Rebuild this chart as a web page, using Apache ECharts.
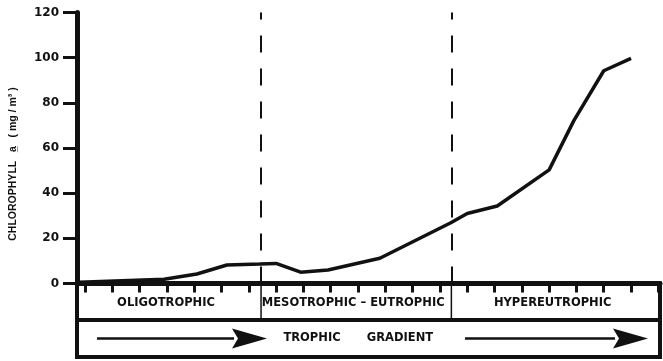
<!DOCTYPE html>
<html>
<head>
<meta charset="utf-8">
<script src="https://cdn.jsdelivr.net/npm/echarts@6/dist/echarts.min.js"></script>
<style>
  html, body { margin: 0; padding: 0; background: #fff; }
  #chart { width: 663px; height: 361px; }
</style>
</head>
<body>
<div id="chart"></div>
<script>
// position along the trophic gradient (in tick units) and chlorophyll a (mg/m3)
var gradientPos = [-0.2, 2.9, 4.1, 5.2, 6.4, 7.0, 7.9, 8.9, 10.8, 13.4, 14.0, 15.1, 17.0, 17.9, 19.0, 20.0];
var chlorophyll = [0.5, 1.9, 4.2, 8.2, 8.6, 8.9, 5.0, 6.0, 11.2, 26.9, 31.0, 34.3, 50.3, 72, 94.2, 99.7];
// zone boundaries (dashed lines) and zone names
var boundaries = [6.45, 13.42];
var zoneNames = ['OLIGOTROPHIC', 'MESOTROPHIC \u2013 EUTROPHIC', 'HYPEREUTROPHIC'];
var xRange = [-0.29, 21.06];
var yRange = [0, 120];

var ink = '#111';
var boldFont = 'bold 11.5px "DejaVu Sans", sans-serif';

var chart = echarts.init(document.getElementById('chart'), null, { renderer: 'canvas' });

chart.setOption({
    backgroundColor: '#fff',
    animation: false,
    grid: { left: 77, right: 3, top: 12.5, bottom: 77.5 },
    xAxis: {
        type: 'value',
        min: xRange[0],
        max: xRange[1],
        splitNumber: 21,
        axisLine: { onZero: false, lineStyle: { color: ink, width: 5 } },
        axisTick: { show: true, length: 9, lineStyle: { color: ink, width: 3 } },
        axisLabel: { show: false },
        splitLine: { show: false }
    },
    yAxis: {
        type: 'value',
        min: yRange[0],
        max: yRange[1],
        interval: 20,
        name: 'CHLOROPHYLL   a\u0332   ( mg / m\u00b3 )',
        nameLocation: 'middle',
        nameGap: 58,
        nameRotate: 90,
        nameTextStyle: {
            color: ink,
            fontWeight: 'bold',
            fontSize: 10.5,
            fontFamily: '"Liberation Sans Narrow", "Liberation Sans", sans-serif',
            padding: [0, 32, 0, 0]
        },
        axisLine: { show: true, onZero: false, lineStyle: { color: ink, width: 5 } },
        axisTick: { show: true, length: 14, lineStyle: { color: ink, width: 3 } },
        axisLabel: { color: ink, fontWeight: 'bold', fontSize: 12, fontFamily: '"DejaVu Sans", sans-serif', margin: 18 },
        splitLine: { show: false }
    },
    series: [{
        type: 'line',
        data: gradientPos.map(function (x, i) { return [x, chlorophyll[i]]; }),
        showSymbol: false,
        symbol: 'none',
        clip: false,
        lineStyle: { color: ink, width: 3.5 },
        markLine: {
            silent: true,
            symbol: 'none',
            label: { show: false },
            lineStyle: { color: ink, width: 2, type: [17, 16] },
            data: boundaries.map(function (b) { return { xAxis: b }; })
        }
    }]
});

/* box under the axis: zone names and the gradient arrows */
function px(x, y) {
    return chart.convertToPixel({ gridIndex: 0 }, [x, y]);
}
var boxLeft = px(xRange[0], 0)[0];
var boxRight = px(xRange[1], 0)[0];
var boxTop = px(0, 0)[1];
var midRow = boxTop + 36.5;
var boxBottom = boxTop + 73.5;
var rowTwo = (midRow + boxBottom) / 2;

var edges = [boxLeft].concat(boundaries.map(function (b) { return px(b, 0)[0]; })).concat([boxRight]);
var graphics = [];

graphics.push({
    type: 'rect',
    shape: { x: boxLeft, y: boxTop, width: boxRight - boxLeft, height: boxBottom - boxTop },
    style: { fill: 'none', stroke: ink, lineWidth: 4 }
});
graphics.push({
    type: 'line',
    shape: { x1: boxLeft, y1: midRow, x2: boxRight, y2: midRow },
    style: { stroke: ink, lineWidth: 4 }
});
boundaries.forEach(function (b, i) {
    graphics.push({
        type: 'line',
        shape: { x1: edges[i + 1], y1: boxTop, x2: edges[i + 1], y2: midRow },
        style: { stroke: ink, lineWidth: 1.5 }
    });
});
zoneNames.forEach(function (name, i) {
    graphics.push({
        type: 'text',
        style: {
            text: name, x: (edges[i] + edges[i + 1]) / 2 - 3, y: (boxTop + midRow) / 2 + 1,
            font: boldFont, fill: ink, align: 'center', verticalAlign: 'middle'
        }
    });
});

// gradient row
graphics.push({
    type: 'text',
    style: { text: 'TROPHIC', x: 312, y: rowTwo, font: boldFont, fill: ink, align: 'center', verticalAlign: 'middle' }
});
graphics.push({
    type: 'text',
    style: { text: 'GRADIENT', x: 400, y: rowTwo, font: boldFont, fill: ink, align: 'center', verticalAlign: 'middle' }
});
[[97, 232, 267], [465, 613, 648]].forEach(function (a) {
    graphics.push({
        type: 'line',
        shape: { x1: a[0], y1: rowTwo, x2: a[1] + 2, y2: rowTwo },
        style: { stroke: ink, lineWidth: 2.5 }
    });
    graphics.push({
        type: 'polygon',
        shape: { points: [[a[1], rowTwo - 10], [a[1] + 6, rowTwo], [a[1], rowTwo + 10], [a[2], rowTwo]] },
        style: { fill: ink }
    });
});

chart.setOption({ graphic: graphics });
</script>
</body>
</html>
